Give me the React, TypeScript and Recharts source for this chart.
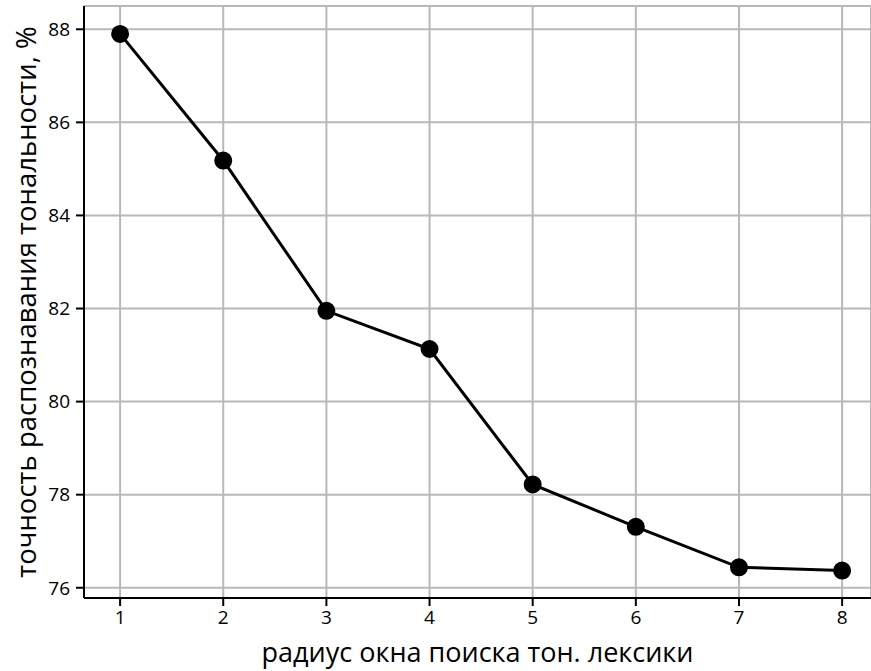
import React from 'react';
import {
  LineChart,
  Line,
  XAxis,
  YAxis,
  CartesianGrid,
} from 'recharts';

const radius = [1, 2, 3, 4, 5, 6, 7, 8];
const accuracy = [87.9, 85.18, 81.95, 81.13, 78.22, 77.31, 76.44, 76.37];
const yTicks = [76, 78, 80, 82, 84, 86, 88];

const data = radius.map((r, i) => ({ r, acc: accuracy[i] }));

const font = '"Open Sans", "Noto Sans", sans-serif';

const YLabel = (props: any) => {
  const vb = props.viewBox || {};
  const x = (vb.x ?? 0) + 25;
  const y = (vb.y ?? 0) + (vb.height ?? 0) / 2;
  return (
    <text
      x={x}
      y={y}
      transform={`rotate(-90, ${x}, ${y})`}
      textAnchor="middle"
      dominantBaseline="central"
      fill="#000"
      fontSize={27.5}
      fontFamily={font}
    >
      точность распознавания тональности, %
    </text>
  );
};

const XLabel = (props: any) => {
  const vb = props.viewBox || {};
  const x = (vb.x ?? 0) + (vb.width ?? 0) / 2;
  return (
    <text
      x={x}
      y={651}
      textAnchor="middle"
      dominantBaseline="central"
      fill="#000"
      fontSize={27}
      fontFamily={font}
    >
      радиус окна поиска тон. лексики
    </text>
  );
};

export default function App() {
  return (
    <div style={{ position: 'absolute', left: 0, top: 0, background: '#fff' }}>
      <LineChart
        width={871}
        height={671}
        data={data}
        margin={{ top: 6, right: 0, bottom: 0, left: 0 }}
      >
        <CartesianGrid stroke="#b8b8b8" strokeWidth={2} />
        <XAxis
          dataKey="r"
          type="number"
          domain={[0.65, 8.28]}
          ticks={radius}
          allowDataOverflow
          height={73}
          fontSize={19}
          fontFamily={font}
          axisLine={{ stroke: '#000', strokeWidth: 2 }}
          tickLine={{ stroke: '#000', strokeWidth: 2 }}
          tickSize={8}
          tickMargin={5}
          tick={{ fill: '#000', fontSize: 19, fontFamily: font }}
          label={<XLabel />}
        />
        <XAxis
          xAxisId="top"
          orientation="top"
          dataKey="r"
          type="number"
          domain={[0.65, 8.28]}
          allowDataOverflow
          height={0}
          tick={false}
          tickLine={false}
          axisLine={{ stroke: '#000', strokeWidth: 2.5 }}
        />
        <YAxis
          type="number"
          domain={[75.78, 88.5]}
          ticks={yTicks}
          allowDataOverflow
          width={84}
          fontSize={19}
          fontFamily={font}
          axisLine={{ stroke: '#000', strokeWidth: 2 }}
          tickLine={{ stroke: '#000', strokeWidth: 2 }}
          tickSize={8}
          tickMargin={6}
          tick={{ fill: '#000', fontSize: 19, fontFamily: font }}
          label={<YLabel />}
        />
        <Line
          type="linear"
          dataKey="acc"
          stroke="#000"
          strokeWidth={3}
          dot={{ fill: '#000', stroke: '#000', r: 7.5 }}
          isAnimationActive={false}
        />
      </LineChart>
    </div>
  );
}
